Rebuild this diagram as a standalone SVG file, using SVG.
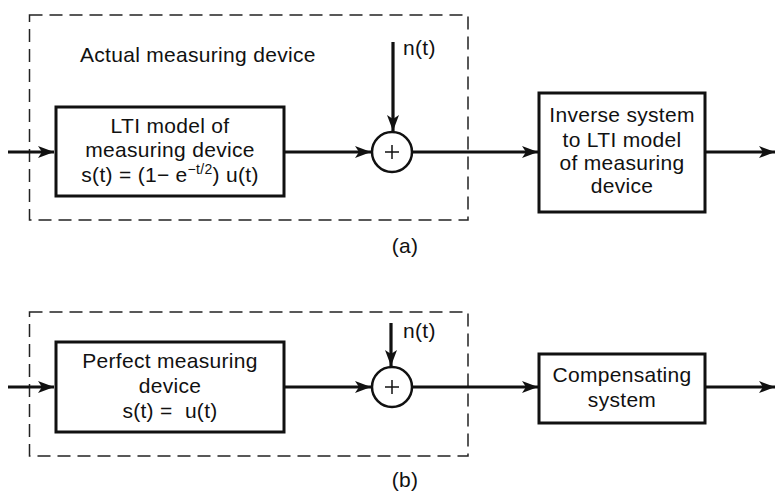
<svg xmlns="http://www.w3.org/2000/svg" width="776" height="493" viewBox="0 0 776 493">
<style>
.t{font-family:"Liberation Sans",Arial,sans-serif;font-size:21px;fill:#111;letter-spacing:0.3px}
.c{text-anchor:middle}
.box{fill:#fff;stroke:#111;stroke-width:3}
.dash{fill:none;stroke:#222;stroke-width:1.5;stroke-dasharray:13 7}
.w{stroke:#111;stroke-width:3.2;fill:none;marker-end:url(#ah)}
.sum{fill:#fff;stroke:#111;stroke-width:2.5}
.plus{stroke:#111;stroke-width:1.5}
</style>
<defs>
<marker id="ah" markerUnits="userSpaceOnUse" markerWidth="18" markerHeight="12" refX="16" refY="6" orient="auto">
<path d="M0,0 L16,6 L0,12 L4,6 Z" fill="#111"/>
</marker>
</defs>
<rect width="776" height="493" fill="#fff"/>
<g id="frame-a"><rect class="dash" x="29.5" y="15" width="438.5" height="205"/>
<text class="t" x="80" y="62">Actual measuring device</text></g>
<g id="frame-b"><rect class="dash" x="29.5" y="312" width="438.5" height="144"/></g>
<g id="connectors">
<line class="w" x1="8" y1="152" x2="54" y2="152"/>
<line class="w" x1="284" y1="152" x2="371" y2="152"/>
<line class="w" x1="393" y1="42" x2="393" y2="131"/>
<line class="w" x1="412" y1="152" x2="538" y2="152"/>
<line class="w" x1="705" y1="152" x2="775" y2="152"/>
<line class="w" x1="8" y1="387" x2="54" y2="387"/>
<line class="w" x1="284" y1="387" x2="371" y2="387"/>
<line class="w" x1="391" y1="323" x2="391" y2="366"/>
<line class="w" x1="412" y1="387" x2="538" y2="387"/>
<line class="w" x1="705" y1="387" x2="775" y2="387"/>
</g>
<g id="lti">
<rect class="box" x="56" y="107" width="228" height="89"/>
<text class="t c" x="170" y="133">LTI model of</text>
<text class="t c" x="170" y="157">measuring device</text>
<text class="t c" x="170" y="182">s(t) = (1− e<tspan font-size="14" dy="-8">−t/2</tspan><tspan dy="8">) u(t)</tspan></text>
</g>
<g id="sum-a"><circle class="sum" cx="392" cy="152" r="20"/>
<line class="plus" x1="385" y1="152" x2="399" y2="152"/><line class="plus" x1="392" y1="145" x2="392" y2="159"/></g>
<g id="nt-a"><text class="t" x="403" y="55">n(t)</text></g>
<g id="inverse">
<rect class="box" x="539" y="93" width="166" height="119"/>
<text class="t c" x="622" y="122">Inverse system</text>
<text class="t c" x="622" y="147">to LTI model</text>
<text class="t c" x="622" y="170">of measuring</text>
<text class="t c" x="622" y="193">device</text>
</g>
<g id="label-a"><text class="t c" x="405" y="253">(a)</text></g>
<g id="perfect">
<rect class="box" x="56" y="342" width="228" height="90"/>
<text class="t c" x="170" y="368">Perfect measuring</text>
<text class="t c" x="170" y="393">device</text>
<text class="t c" x="170" y="418">s(t) = &#160;u(t)</text>
</g>
<g id="sum-b"><circle class="sum" cx="392" cy="387" r="20"/>
<line class="plus" x1="385" y1="387" x2="399" y2="387"/><line class="plus" x1="392" y1="380" x2="392" y2="394"/></g>
<g id="nt-b"><text class="t" x="403" y="338">n(t)</text></g>
<g id="compensating">
<rect class="box" x="539" y="354" width="166" height="69"/>
<text class="t c" x="622" y="382">Compensating</text>
<text class="t c" x="622" y="407">system</text>
</g>
<g id="label-b"><text class="t c" x="405" y="487">(b)</text></g>
</svg>
